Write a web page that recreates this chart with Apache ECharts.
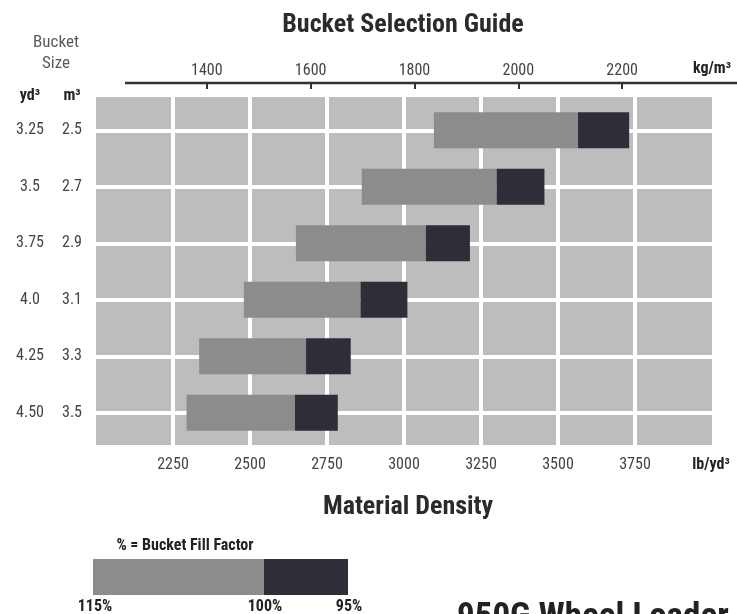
<!DOCTYPE html>
<html><head><meta charset="utf-8">
<script src="https://cdn.jsdelivr.net/npm/echarts@6/dist/echarts.min.js"></script>
<style>html,body{margin:0;padding:0;background:#fff}#c{width:737px;height:614px}</style>
</head><body><div id="c"></div>
<script>
// ---- data ----
const sizesYd = ['3.25', '3.5', '3.75', '4.0', '4.25', '4.50'];
const sizesM3 = ['2.5', '2.7', '2.9', '3.1', '3.3', '3.5'];
const density115 = [3097, 2863, 2649, 2480, 2335, 2294]; // lb/yd3 at 115% fill
const density100 = [3565, 3301, 3071, 2859, 2682, 2646]; // lb/yd3 at 100% fill
const density95  = [3731, 3456, 3214, 3011, 2827, 2785]; // lb/yd3 at 95% fill
const lbTicks = [2250, 2500, 2750, 3000, 3250, 3500, 3750];
const kgTicks = [1400, 1600, 1800, 2000, 2200];
const LB_MIN = 2000, LB_MAX = 4000, LB_STEP = 250;
const LB_TO_KG = 0.593276;

const FF = "'Liberation Sans Narrow','Roboto Condensed','DejaVu Sans Condensed',sans-serif";
const LIGHT = '#8c8c8c', DARK = '#2e2e38', BG = '#bdbdbd';

const cats = sizesYd.map((y, i) => y + '|' + sizesM3[i]);
const baseVals = density115;
const lightVals = density100.map((v, i) => v - density115[i]);
const darkVals = density95.map((v, i) => v - density100[i]);

function t(text, x, y, size, weight, color, align) {
  return {
    text: text, left: x, top: y, padding: 0,
    textAlign: align || 'center', textVerticalAlign: 'middle',
    textStyle: { fontFamily: FF, fontSize: size, fontWeight: weight, color: color }
  };
}
const plain = v => String(Math.round(v));

const chart = echarts.init(document.getElementById('c'), null, { renderer: 'canvas' });
chart.setOption({
  animation: false,
  backgroundColor: '#fff',
  title: [
    t('Bucket Selection Guide', 403, 25, 26, 'bold', '#2b2b2b'),
    t('Bucket', 56, 43, 17, 'normal', '#5a5a5a'),
    t('Size', 56, 64, 17, 'normal', '#5a5a5a'),
    t('yd³', 30, 96, 16, 'bold', '#222'),
    t('m³', 72, 96, 16, 'bold', '#222'),
    t('kg/m³', 712, 69, 16, 'bold', '#222'),
    t('lb/yd³', 711, 465, 16, 'bold', '#222'),
    t('Material Density', 408, 507, 26, 'bold', '#2b2b2b'),
    t('% = Bucket Fill Factor', 185, 546, 16, 'bold', '#222'),
    t('115%', 95, 607, 16, 'bold', '#222'),
    t('100%', 265, 607, 16, 'bold', '#222'),
    t('95%', 349, 607, 16, 'bold', '#222'),
    { text: '950G Wheel Loader', left: 457, top: 601, padding: 0, textVerticalAlign: 'top',
      textAlign: 'left',
      textStyle: { fontFamily: FF, fontSize: 35, fontWeight: 'bold', color: '#222' } }
  ],
  graphic: [
    { type: 'line', shape: { x1: 125, y1: 83, x2: 737, y2: 83 }, style: { stroke: '#333', lineWidth: 2.5 } },
    { type: 'rect', shape: { x: 93, y: 559, width: 171, height: 36 }, style: { fill: LIGHT } },
    { type: 'rect', shape: { x: 264, y: 559, width: 84, height: 36 }, style: { fill: DARK } }
  ],
  grid: [
    { left: 96, right: 25, top: 97, bottom: 169, show: true, backgroundColor: BG, borderWidth: 0, z: 0 },
    { left: 96, right: 25, top: 102, bottom: 173, show: false }
  ],
  xAxis: [
    { // bottom lb/yd3 axis on background grid
      gridIndex: 0, type: 'value', position: 'bottom', min: LB_MIN, max: LB_MAX, interval: LB_STEP,
      axisLine: { show: false }, axisTick: { show: false },
      axisLabel: { customValues: lbTicks, formatter: plain, margin: 12, fontFamily: FF, fontSize: 16, color: '#444' },
      splitLine: { show: true, showMinLine: false, showMaxLine: false, lineStyle: { color: '#fff', width: 4 } }
    },
    { // top kg/m3 axis
      gridIndex: 0, type: 'value', position: 'top', offset: 14,
      min: LB_MIN * LB_TO_KG, max: LB_MAX * LB_TO_KG,
      axisLine: { show: false },
      axisTick: { show: true, inside: true, length: 6, customValues: kgTicks, lineStyle: { color: '#333', width: 2 } },
      axisLabel: { customValues: kgTicks, formatter: plain, margin: 4, fontFamily: FF, fontSize: 16, color: '#444' },
      splitLine: { show: false }
    },
    { // data axis for bars
      gridIndex: 1, type: 'value', min: LB_MIN, max: LB_MAX, show: false, splitLine: { show: false }
    }
  ],
  yAxis: [
    { gridIndex: 0, type: 'value', show: false, splitLine: { show: false } },
    {
      gridIndex: 1, type: 'category', inverse: true, data: cats,
      axisLine: { show: false }, axisTick: { show: false }, splitLine: { show: false },
      axisLabel: {
        margin: 6,
        formatter: function (v) { const p = v.split('|'); return '{a|' + p[0] + '}{b|' + p[1] + '}'; },
        rich: {
          a: { width: 48, align: 'center', fontFamily: FF, fontSize: 16, color: '#444' },
          b: { width: 36, align: 'center', fontFamily: FF, fontSize: 16, color: '#444' }
        }
      }
    }
  ],
  series: [
    {
      type: 'bar', name: 'base', xAxisIndex: 2, yAxisIndex: 1, stack: 'd', data: baseVals,
      barWidth: 36, itemStyle: { color: 'rgba(0,0,0,0)' }, z: 1, silent: true,
      markLine: {
        z: 1, silent: true, symbol: ['none', 'none'], label: { show: false },
        lineStyle: { color: '#fff', width: 4, type: 'solid' },
        data: cats.map(c => ({ yAxis: c }))
      }
    },
    { type: 'bar', name: '115-100%', xAxisIndex: 2, yAxisIndex: 1, stack: 'd', data: lightVals,
      barWidth: 36, itemStyle: { color: LIGHT }, z: 3 },
    { type: 'bar', name: '100-95%', xAxisIndex: 2, yAxisIndex: 1, stack: 'd', data: darkVals,
      barWidth: 36, itemStyle: { color: DARK }, z: 3 }
  ]
});
</script></body></html>
